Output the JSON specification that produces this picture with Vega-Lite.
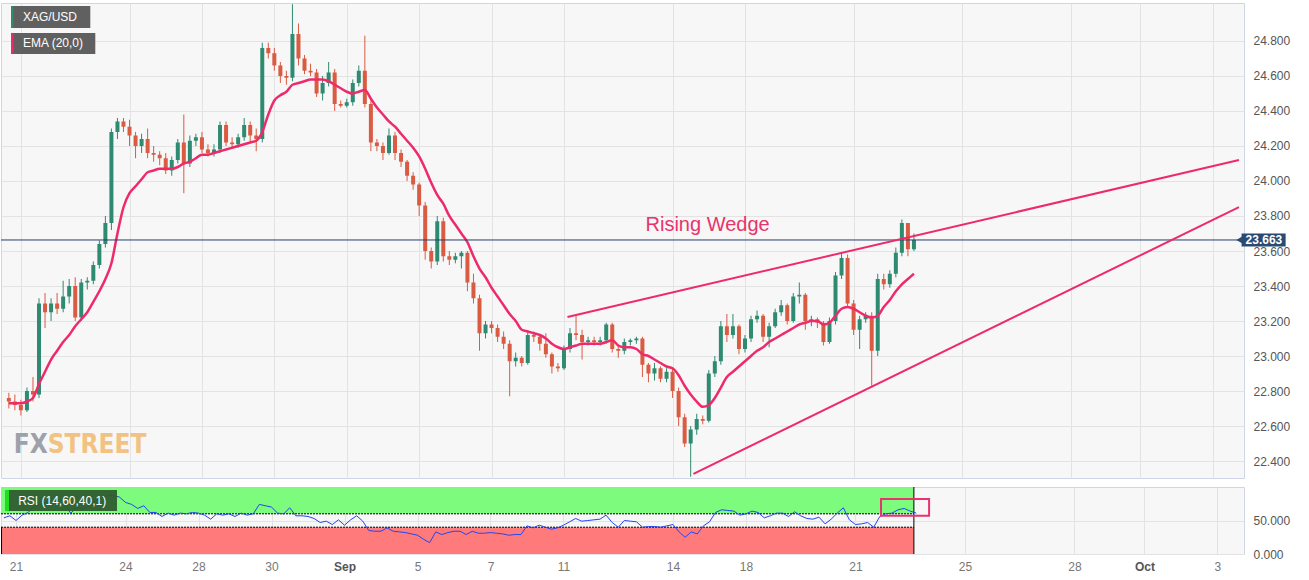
{
  "$schema": "https://vega.github.io/schema/vega-lite/v6.json",
  "background": "white",
  "padding": {"left": 0, "top": 2, "right": 0, "bottom": 0},
  "spacing": 7,
  "config": {
    "font": "Liberation Sans",
    "view": {"fill": "#f7f7f7", "stroke": "#cfd4e6"},
    "axis": {"gridColor": "#e3e3e3", "domain": false, "ticks": false, "title": null, "labelFont": "Liberation Sans", "labelFontSize": 12, "labelColor": "#555555", "labelFlush": false, "labelOverlap": false}
  },
  "datasets": {
    "candles": [
      {"i":-2,"open":22.76,"high":22.79,"low":22.70,"close":22.74,"ema":22.73,"rsi":54},
      {"i":-1,"open":22.74,"high":22.78,"low":22.69,"close":22.72,"ema":22.73,"rsi":57},
      {"i":0,"open":22.72,"high":22.75,"low":22.66,"close":22.69,"ema":22.73,"rsi":50},
      {"i":1,"open":22.69,"high":22.82,"low":22.68,"close":22.80,"ema":22.74,"rsi":58},
      {"i":2,"open":22.80,"high":22.88,"low":22.74,"close":22.78,"ema":22.76,"rsi":62},
      {"i":3,"open":22.78,"high":23.33,"low":22.76,"close":23.30,"ema":22.84,"rsi":72},
      {"i":4,"open":23.30,"high":23.36,"low":23.16,"close":23.25,"ema":22.91,"rsi":74},
      {"i":5,"open":23.25,"high":23.33,"low":23.20,"close":23.30,"ema":22.98,"rsi":77},
      {"i":6,"open":23.30,"high":23.36,"low":23.24,"close":23.27,"ema":23.03,"rsi":80},
      {"i":7,"open":23.27,"high":23.43,"low":23.25,"close":23.34,"ema":23.08,"rsi":77},
      {"i":8,"open":23.34,"high":23.44,"low":23.30,"close":23.40,"ema":23.12,"rsi":73},
      {"i":9,"open":23.40,"high":23.45,"low":23.20,"close":23.22,"ema":23.17,"rsi":61},
      {"i":10,"open":23.22,"high":23.44,"low":23.20,"close":23.42,"ema":23.21,"rsi":70},
      {"i":11,"open":23.42,"high":23.45,"low":23.38,"close":23.43,"ema":23.25,"rsi":67},
      {"i":12,"open":23.43,"high":23.54,"low":23.41,"close":23.52,"ema":23.31,"rsi":72},
      {"i":13,"open":23.52,"high":23.66,"low":23.50,"close":23.64,"ema":23.37,"rsi":79},
      {"i":14,"open":23.64,"high":23.80,"low":23.62,"close":23.76,"ema":23.44,"rsi":84},
      {"i":15,"open":23.76,"high":24.30,"low":23.72,"close":24.28,"ema":23.53,"rsi":87},
      {"i":16,"open":24.28,"high":24.36,"low":24.24,"close":24.34,"ema":23.70,"rsi":87},
      {"i":17,"open":24.34,"high":24.36,"low":24.28,"close":24.31,"ema":23.85,"rsi":85},
      {"i":18,"open":24.31,"high":24.35,"low":24.20,"close":24.26,"ema":23.93,"rsi":77},
      {"i":19,"open":24.26,"high":24.28,"low":24.13,"close":24.20,"ema":23.97,"rsi":74},
      {"i":20,"open":24.20,"high":24.27,"low":24.16,"close":24.24,"ema":24.01,"rsi":68},
      {"i":21,"open":24.24,"high":24.30,"low":24.13,"close":24.16,"ema":24.05,"rsi":72},
      {"i":22,"open":24.16,"high":24.20,"low":24.11,"close":24.15,"ema":24.06,"rsi":62},
      {"i":23,"open":24.15,"high":24.17,"low":24.09,"close":24.13,"ema":24.07,"rsi":62},
      {"i":24,"open":24.13,"high":24.16,"low":24.04,"close":24.06,"ema":24.07,"rsi":56},
      {"i":25,"open":24.06,"high":24.14,"low":24.03,"close":24.12,"ema":24.07,"rsi":61},
      {"i":26,"open":24.12,"high":24.24,"low":24.10,"close":24.22,"ema":24.08,"rsi":58},
      {"i":27,"open":24.22,"high":24.38,"low":23.93,"close":24.10,"ema":24.10,"rsi":61},
      {"i":28,"open":24.10,"high":24.26,"low":24.08,"close":24.23,"ema":24.11,"rsi":60},
      {"i":29,"open":24.23,"high":24.27,"low":24.20,"close":24.25,"ema":24.13,"rsi":62},
      {"i":30,"open":24.25,"high":24.28,"low":24.16,"close":24.18,"ema":24.15,"rsi":61},
      {"i":31,"open":24.18,"high":24.21,"low":24.14,"close":24.16,"ema":24.15,"rsi":58},
      {"i":32,"open":24.16,"high":24.21,"low":24.14,"close":24.18,"ema":24.16,"rsi":52},
      {"i":33,"open":24.18,"high":24.34,"low":24.16,"close":24.32,"ema":24.17,"rsi":60},
      {"i":34,"open":24.32,"high":24.34,"low":24.20,"close":24.22,"ema":24.18,"rsi":58},
      {"i":35,"open":24.22,"high":24.25,"low":24.19,"close":24.21,"ema":24.19,"rsi":60},
      {"i":36,"open":24.21,"high":24.27,"low":24.19,"close":24.25,"ema":24.20,"rsi":56},
      {"i":37,"open":24.25,"high":24.36,"low":24.23,"close":24.32,"ema":24.21,"rsi":61},
      {"i":38,"open":24.32,"high":24.34,"low":24.22,"close":24.26,"ema":24.22,"rsi":58},
      {"i":39,"open":24.26,"high":24.30,"low":24.17,"close":24.24,"ema":24.23,"rsi":60},
      {"i":40,"open":24.24,"high":24.79,"low":24.22,"close":24.76,"ema":24.28,"rsi":74},
      {"i":41,"open":24.76,"high":24.79,"low":24.70,"close":24.73,"ema":24.38,"rsi":72},
      {"i":42,"open":24.73,"high":24.76,"low":24.63,"close":24.66,"ema":24.46,"rsi":70},
      {"i":43,"open":24.66,"high":24.68,"low":24.56,"close":24.60,"ema":24.49,"rsi":61},
      {"i":44,"open":24.60,"high":24.63,"low":24.55,"close":24.59,"ema":24.51,"rsi":60},
      {"i":45,"open":24.59,"high":25.01,"low":24.57,"close":24.84,"ema":24.55,"rsi":69},
      {"i":46,"open":24.84,"high":24.90,"low":24.66,"close":24.70,"ema":24.56,"rsi":57},
      {"i":47,"open":24.70,"high":24.72,"low":24.61,"close":24.63,"ema":24.57,"rsi":57},
      {"i":48,"open":24.63,"high":24.67,"low":24.60,"close":24.62,"ema":24.58,"rsi":56},
      {"i":49,"open":24.62,"high":24.64,"low":24.48,"close":24.50,"ema":24.58,"rsi":53},
      {"i":50,"open":24.50,"high":24.60,"low":24.46,"close":24.56,"ema":24.58,"rsi":47},
      {"i":51,"open":24.56,"high":24.68,"low":24.54,"close":24.62,"ema":24.57,"rsi":49},
      {"i":52,"open":24.62,"high":24.64,"low":24.40,"close":24.44,"ema":24.55,"rsi":44},
      {"i":53,"open":24.44,"high":24.46,"low":24.42,"close":24.43,"ema":24.53,"rsi":51},
      {"i":54,"open":24.43,"high":24.47,"low":24.42,"close":24.45,"ema":24.51,"rsi":43},
      {"i":55,"open":24.45,"high":24.58,"low":24.43,"close":24.56,"ema":24.50,"rsi":51},
      {"i":56,"open":24.56,"high":24.66,"low":24.54,"close":24.63,"ema":24.51,"rsi":57},
      {"i":57,"open":24.63,"high":24.83,"low":24.42,"close":24.44,"ema":24.52,"rsi":49},
      {"i":58,"open":24.44,"high":24.46,"low":24.17,"close":24.22,"ema":24.47,"rsi":35},
      {"i":59,"open":24.22,"high":24.24,"low":24.17,"close":24.20,"ema":24.42,"rsi":34},
      {"i":60,"open":24.20,"high":24.22,"low":24.12,"close":24.16,"ema":24.38,"rsi":34},
      {"i":61,"open":24.16,"high":24.30,"low":24.15,"close":24.26,"ema":24.34,"rsi":39},
      {"i":62,"open":24.26,"high":24.28,"low":24.12,"close":24.16,"ema":24.31,"rsi":34},
      {"i":63,"open":24.16,"high":24.18,"low":24.08,"close":24.11,"ema":24.27,"rsi":33},
      {"i":64,"open":24.11,"high":24.12,"low":24.00,"close":24.03,"ema":24.23,"rsi":32},
      {"i":65,"open":24.03,"high":24.05,"low":23.95,"close":23.98,"ema":24.19,"rsi":30},
      {"i":66,"open":23.98,"high":23.99,"low":23.80,"close":23.86,"ema":24.14,"rsi":28},
      {"i":67,"open":23.86,"high":23.88,"low":23.55,"close":23.60,"ema":24.07,"rsi":22},
      {"i":68,"open":23.60,"high":23.62,"low":23.50,"close":23.54,"ema":23.99,"rsi":17},
      {"i":69,"open":23.54,"high":23.80,"low":23.52,"close":23.77,"ema":23.92,"rsi":33},
      {"i":70,"open":23.77,"high":23.79,"low":23.54,"close":23.57,"ema":23.87,"rsi":29},
      {"i":71,"open":23.57,"high":23.60,"low":23.52,"close":23.55,"ema":23.80,"rsi":32},
      {"i":72,"open":23.55,"high":23.59,"low":23.53,"close":23.57,"ema":23.75,"rsi":34},
      {"i":73,"open":23.57,"high":23.60,"low":23.50,"close":23.59,"ema":23.70,"rsi":34},
      {"i":74,"open":23.59,"high":23.60,"low":23.37,"close":23.42,"ema":23.65,"rsi":29},
      {"i":75,"open":23.42,"high":23.47,"low":23.30,"close":23.33,"ema":23.57,"rsi":34},
      {"i":76,"open":23.33,"high":23.35,"low":23.03,"close":23.13,"ema":23.50,"rsi":31},
      {"i":77,"open":23.13,"high":23.20,"low":23.10,"close":23.18,"ema":23.45,"rsi":31},
      {"i":78,"open":23.18,"high":23.20,"low":23.13,"close":23.16,"ema":23.39,"rsi":32},
      {"i":79,"open":23.16,"high":23.18,"low":23.08,"close":23.11,"ema":23.34,"rsi":31},
      {"i":80,"open":23.11,"high":23.14,"low":23.04,"close":23.07,"ema":23.29,"rsi":30},
      {"i":81,"open":23.07,"high":23.09,"low":22.77,"close":22.97,"ema":23.24,"rsi":28},
      {"i":82,"open":22.97,"high":23.02,"low":22.94,"close":22.99,"ema":23.20,"rsi":29},
      {"i":83,"open":22.99,"high":23.00,"low":22.94,"close":22.96,"ema":23.15,"rsi":29},
      {"i":84,"open":22.96,"high":23.14,"low":22.95,"close":23.12,"ema":23.14,"rsi":42},
      {"i":85,"open":23.12,"high":23.14,"low":23.08,"close":23.11,"ema":23.13,"rsi":39},
      {"i":86,"open":23.11,"high":23.12,"low":23.03,"close":23.07,"ema":23.12,"rsi":43},
      {"i":87,"open":23.07,"high":23.13,"low":22.99,"close":23.01,"ema":23.10,"rsi":40},
      {"i":88,"open":23.01,"high":23.02,"low":22.90,"close":22.94,"ema":23.07,"rsi":37},
      {"i":89,"open":22.94,"high":22.96,"low":22.91,"close":22.93,"ema":23.05,"rsi":39},
      {"i":90,"open":22.93,"high":23.06,"low":22.92,"close":23.04,"ema":23.04,"rsi":43},
      {"i":91,"open":23.04,"high":23.16,"low":23.02,"close":23.13,"ema":23.05,"rsi":48},
      {"i":92,"open":23.13,"high":23.23,"low":23.09,"close":23.12,"ema":23.06,"rsi":53},
      {"i":93,"open":23.12,"high":23.15,"low":22.98,"close":23.08,"ema":23.07,"rsi":49},
      {"i":94,"open":23.08,"high":23.11,"low":23.06,"close":23.09,"ema":23.07,"rsi":50},
      {"i":95,"open":23.09,"high":23.11,"low":23.06,"close":23.08,"ema":23.07,"rsi":51},
      {"i":96,"open":23.08,"high":23.11,"low":23.06,"close":23.09,"ema":23.07,"rsi":52},
      {"i":97,"open":23.09,"high":23.19,"low":23.07,"close":23.18,"ema":23.08,"rsi":58},
      {"i":98,"open":23.18,"high":23.19,"low":23.02,"close":23.04,"ema":23.09,"rsi":47},
      {"i":99,"open":23.04,"high":23.06,"low":22.99,"close":23.03,"ema":23.06,"rsi":40},
      {"i":100,"open":23.03,"high":23.10,"low":23.01,"close":23.08,"ema":23.05,"rsi":50},
      {"i":101,"open":23.08,"high":23.10,"low":23.06,"close":23.09,"ema":23.05,"rsi":49},
      {"i":102,"open":23.09,"high":23.11,"low":23.07,"close":23.10,"ema":23.04,"rsi":48},
      {"i":103,"open":23.10,"high":23.11,"low":22.88,"close":22.95,"ema":23.01,"rsi":40},
      {"i":104,"open":22.95,"high":22.96,"low":22.85,"close":22.90,"ema":23.00,"rsi":41},
      {"i":105,"open":22.90,"high":22.96,"low":22.86,"close":22.93,"ema":22.98,"rsi":41},
      {"i":106,"open":22.93,"high":22.94,"low":22.85,"close":22.87,"ema":22.96,"rsi":40},
      {"i":107,"open":22.87,"high":22.93,"low":22.85,"close":22.91,"ema":22.94,"rsi":42},
      {"i":108,"open":22.91,"high":22.93,"low":22.76,"close":22.80,"ema":22.93,"rsi":44},
      {"i":109,"open":22.80,"high":22.82,"low":22.60,"close":22.65,"ema":22.89,"rsi":33},
      {"i":110,"open":22.65,"high":22.67,"low":22.48,"close":22.50,"ema":22.83,"rsi":25},
      {"i":111,"open":22.50,"high":22.60,"low":22.31,"close":22.58,"ema":22.78,"rsi":33},
      {"i":112,"open":22.58,"high":22.67,"low":22.55,"close":22.64,"ema":22.74,"rsi":30},
      {"i":113,"open":22.64,"high":22.66,"low":22.61,"close":22.63,"ema":22.71,"rsi":42},
      {"i":114,"open":22.63,"high":22.92,"low":22.62,"close":22.90,"ema":22.72,"rsi":48},
      {"i":115,"open":22.90,"high":23.00,"low":22.88,"close":22.97,"ema":22.76,"rsi":62},
      {"i":116,"open":22.97,"high":23.20,"low":22.95,"close":23.17,"ema":22.82,"rsi":66},
      {"i":117,"open":23.17,"high":23.24,"low":23.08,"close":23.12,"ema":22.88,"rsi":65},
      {"i":118,"open":23.12,"high":23.24,"low":23.10,"close":23.17,"ema":22.91,"rsi":64},
      {"i":119,"open":23.17,"high":23.18,"low":23.01,"close":23.04,"ema":22.94,"rsi":58},
      {"i":120,"open":23.04,"high":23.12,"low":23.02,"close":23.10,"ema":22.97,"rsi":60},
      {"i":121,"open":23.10,"high":23.23,"low":23.08,"close":23.21,"ema":23.00,"rsi":64},
      {"i":122,"open":23.21,"high":23.26,"low":23.19,"close":23.23,"ema":23.03,"rsi":62},
      {"i":123,"open":23.23,"high":23.24,"low":23.08,"close":23.11,"ema":23.05,"rsi":54},
      {"i":124,"open":23.11,"high":23.19,"low":23.05,"close":23.17,"ema":23.08,"rsi":57},
      {"i":125,"open":23.17,"high":23.27,"low":23.16,"close":23.25,"ema":23.10,"rsi":61},
      {"i":126,"open":23.25,"high":23.32,"low":23.23,"close":23.29,"ema":23.12,"rsi":61},
      {"i":127,"open":23.29,"high":23.30,"low":23.18,"close":23.20,"ema":23.14,"rsi":56},
      {"i":128,"open":23.20,"high":23.36,"low":23.19,"close":23.34,"ema":23.16,"rsi":63},
      {"i":129,"open":23.34,"high":23.42,"low":23.30,"close":23.35,"ema":23.18,"rsi":57},
      {"i":130,"open":23.35,"high":23.36,"low":23.15,"close":23.20,"ema":23.19,"rsi":53},
      {"i":131,"open":23.20,"high":23.23,"low":23.17,"close":23.21,"ema":23.20,"rsi":52},
      {"i":132,"open":23.21,"high":23.22,"low":23.16,"close":23.19,"ema":23.20,"rsi":55},
      {"i":133,"open":23.19,"high":23.20,"low":23.06,"close":23.08,"ema":23.18,"rsi":45},
      {"i":134,"open":23.08,"high":23.22,"low":23.07,"close":23.20,"ema":23.19,"rsi":52},
      {"i":135,"open":23.20,"high":23.48,"low":23.18,"close":23.46,"ema":23.23,"rsi":61},
      {"i":136,"open":23.46,"high":23.59,"low":23.44,"close":23.56,"ema":23.27,"rsi":69},
      {"i":137,"open":23.56,"high":23.58,"low":23.28,"close":23.30,"ema":23.28,"rsi":51},
      {"i":138,"open":23.30,"high":23.32,"low":23.12,"close":23.15,"ema":23.27,"rsi":44},
      {"i":139,"open":23.15,"high":23.23,"low":23.04,"close":23.21,"ema":23.25,"rsi":45},
      {"i":140,"open":23.21,"high":23.25,"low":23.19,"close":23.23,"ema":23.23,"rsi":47},
      {"i":141,"open":23.23,"high":23.25,"low":22.83,"close":23.03,"ema":23.22,"rsi":40},
      {"i":142,"open":23.03,"high":23.47,"low":23.00,"close":23.44,"ema":23.23,"rsi":56},
      {"i":143,"open":23.44,"high":23.47,"low":23.38,"close":23.41,"ema":23.28,"rsi":60},
      {"i":144,"open":23.41,"high":23.49,"low":23.39,"close":23.47,"ema":23.32,"rsi":61},
      {"i":145,"open":23.47,"high":23.62,"low":23.45,"close":23.59,"ema":23.37,"rsi":66},
      {"i":146,"open":23.59,"high":23.78,"low":23.57,"close":23.76,"ema":23.41,"rsi":68},
      {"i":147,"open":23.76,"high":23.76,"low":23.57,"close":23.61,"ema":23.44,"rsi":64},
      {"i":148,"open":23.61,"high":23.70,"low":23.60,"close":23.663,"ema":23.47,"rsi":61}
    ],
    "wedge": [
      {"line":"upper","i":90.58,"price":23.223},
      {"line":"upper","i":201.87,"price":24.12},
      {"line":"lower","i":111.46,"price":22.326},
      {"line":"lower","i":201.87,"price":23.851}
    ],
    "last": [{"price":23.663,"label":"23.663"}]
  },
  "vconcat": [
    {
      "width": 1243,
      "height": 475,
      "layer": [
        {
          "data": {"name": "candles"},
          "mark": {"type": "rule", "strokeWidth": 1},
          "encoding": {
            "x": {"field": "i", "type": "quantitative", "scale": {"domain": [-2.47, 201.87], "nice": false, "zero": false},
                  "axis": {"values": [0,18,30,42,54,66,78,90,108,120,138,156,174,185.5,197.5], "tickCount": 40, "labels": false, "grid": true, "title": null}},
            "y": {"field": "low", "type": "quantitative", "scale": {"domain": [22.303, 25.017], "nice": false, "zero": false},
                  "axis": {"orient": "right", "values": [22.4,22.6,22.8,23.0,23.2,23.4,23.6,23.8,24.0,24.2,24.4,24.6,24.8], "tickCount": 30, "format": ".3f", "grid": true, "labelPadding": 9, "labelOverlap": false, "title": null}},
            "y2": {"field": "high"},
            "color": {"condition": {"test": "datum.close >= datum.open", "value": "#2e8a70"}, "value": "#d95b42"}
          }
        },
        {
          "data": {"name": "candles"},
          "mark": {"type": "bar", "size": 4},
          "encoding": {
            "x": {"field": "i", "type": "quantitative"},
            "y": {"field": "open", "type": "quantitative"},
            "y2": {"field": "close"},
            "color": {"condition": {"test": "datum.close >= datum.open", "value": "#2e8a70"}, "value": "#d95b42"}
          }
        },
        {
          "data": {"name": "candles"},
          "mark": {"type": "line", "color": "#ee2a6b", "strokeWidth": 2.5, "interpolate": "monotone"},
          "encoding": {
            "x": {"field": "i", "type": "quantitative"},
            "y": {"field": "ema", "type": "quantitative"}
          }
        },
        {
          "data": {"name": "last"},
          "mark": {"type": "rule", "color": "#24416b", "strokeWidth": 1},
          "encoding": {"y": {"field": "price", "type": "quantitative"}}
        },
        {
          "data": {"name": "wedge"},
          "mark": {"type": "line", "color": "#ee2a6b", "strokeWidth": 2},
          "encoding": {
            "x": {"field": "i", "type": "quantitative"},
            "y": {"field": "price", "type": "quantitative"},
            "detail": {"field": "line"}
          }
        },
        {
          "data": {"values": [{"label": "Rising Wedge"}]},
          "mark": {"type": "text", "color": "#e8336d", "fontSize": 20, "font": "Liberation Sans", "align": "center", "baseline": "middle"},
          "encoding": {
            "x": {"datum": 113.8, "type": "quantitative"},
            "y": {"datum": 23.749, "type": "quantitative"},
            "text": {"field": "label"}
          }
        },
        {
          "data": {"values": [{"label": "FX"}]},
          "mark": {"type": "text", "color": "#9ea1aa", "fontSize": 26, "fontWeight": "bold", "font": "DejaVu Sans Condensed, Roboto, sans-serif", "align": "right", "baseline": "middle"},
          "encoding": {
            "x": {"datum": 4.44, "type": "quantitative"},
            "y": {"datum": 22.491, "type": "quantitative"},
            "text": {"field": "label"}
          }
        },
        {
          "data": {"values": [{"label": "STREET"}]},
          "mark": {"type": "text", "color": "#f2c283", "fontSize": 26, "fontWeight": "bold", "font": "DejaVu Sans Condensed, Roboto, sans-serif", "align": "left", "baseline": "middle"},
          "encoding": {
            "x": {"datum": 4.44, "type": "quantitative"},
            "y": {"datum": 22.491, "type": "quantitative"},
            "text": {"field": "label"}
          }
        },
        {
          "data": {"values": [{"name": "XAG/USD"}]},
          "mark": {"type": "rect", "color": "#606060"},
          "encoding": {
            "x": {"datum": -1.64, "type": "quantitative"}, "x2": {"datum": 11.5},
            "y": {"datum": 25.0, "type": "quantitative"}, "y2": {"datum": 24.874}
          }
        },
        {
          "data": {"values": [{"name": "XAG/USD"}]},
          "mark": {"type": "rect", "color": "#2e8a70"},
          "encoding": {
            "x": {"datum": -1.64, "type": "quantitative"}, "x2": {"datum": -1.23},
            "y": {"datum": 25.0, "type": "quantitative"}, "y2": {"datum": 24.874}
          }
        },
        {
          "data": {"values": [{"name": "XAG/USD"}]},
          "mark": {"type": "text", "color": "#ffffff", "fontSize": 12, "align": "left", "baseline": "middle"},
          "encoding": {
            "x": {"datum": 0.35, "type": "quantitative"},
            "y": {"datum": 24.937, "type": "quantitative"},
            "text": {"field": "name"}
          }
        },
        {
          "data": {"values": [{"name": "EMA (20,0)"}]},
          "mark": {"type": "rect", "color": "#606060"},
          "encoding": {
            "x": {"datum": -1.64, "type": "quantitative"}, "x2": {"datum": 12.33},
            "y": {"datum": 24.846, "type": "quantitative"}, "y2": {"datum": 24.726}
          }
        },
        {
          "data": {"values": [{"name": "EMA (20,0)"}]},
          "mark": {"type": "rect", "color": "#ee2a6b"},
          "encoding": {
            "x": {"datum": -1.64, "type": "quantitative"}, "x2": {"datum": -1.23},
            "y": {"datum": 24.846, "type": "quantitative"}, "y2": {"datum": 24.726}
          }
        },
        {
          "data": {"values": [{"name": "EMA (20,0)"}]},
          "mark": {"type": "text", "color": "#ffffff", "fontSize": 12, "align": "left", "baseline": "middle"},
          "encoding": {
            "x": {"datum": 0.35, "type": "quantitative"},
            "y": {"datum": 24.786, "type": "quantitative"},
            "text": {"field": "name"}
          }
        },
        {
          "data": {"name": "last"},
          "mark": {"type": "point", "shape": "triangle-left", "filled": true, "size": 45, "color": "#2b4a72", "opacity": 1},
          "encoding": {
            "x": {"datum": 201.9, "type": "quantitative"},
            "y": {"field": "price", "type": "quantitative"}
          }
        },
        {
          "data": {"name": "last"},
          "mark": {"type": "rect", "color": "#2b4a72"},
          "encoding": {
            "x": {"datum": 202.3, "type": "quantitative"}, "x2": {"datum": 209.6},
            "y": {"datum": 23.626, "type": "quantitative"}, "y2": {"datum": 23.700}
          }
        },
        {
          "data": {"name": "last"},
          "mark": {"type": "text", "color": "#ffffff", "fontSize": 12, "fontWeight": "bold", "align": "center", "baseline": "middle"},
          "encoding": {
            "x": {"datum": 206.0, "type": "quantitative"},
            "y": {"field": "price", "type": "quantitative"},
            "text": {"field": "label"}
          }
        }
      ]
    },
    {
      "width": 1243,
      "height": 67,
      "layer": [
        {
          "data": {"values": [{"zone": "overbought"}]},
          "mark": {"type": "rect", "color": "#7dfb7d", "opacity": 1},
          "encoding": {
            "x": {"datum": -2.47, "type": "quantitative", "scale": {"domain": [-2.47, 201.87], "nice": false, "zero": false},
                  "axis": {"values": [0,18,30,42,54,66,78,90,108,120,138,156,174,185.5,197.5], "tickCount": 40, "grid": true, "title": null, "labelPadding": 7, "labelColor": {"condition": {"test": "datum.value == 54 || datum.value == 185.5", "value": "#555555"}, "value": "#777777"},
                  "labelFontWeight": {"condition": {"test": "datum.value == 54 || datum.value == 185.5", "value": "bold"}, "value": "normal"},
                  "labelExpr": "['21','24','28','30','Sep','5','7','11','14','18','21','25','28','Oct','3'][indexof([0,18,30,42,54,66,78,90,108,120,138,156,174,185.5,197.5], datum.value)]"}},
            "x2": {"datum": 147.6},
            "y": {"datum": 60, "type": "quantitative", "scale": {"domain": [0, 100], "nice": false},
                  "axis": {"orient": "right", "values": [0, 50], "tickCount": 5, "format": ".3f", "grid": true, "labelPadding": 9, "title": null}},
            "y2": {"datum": 100}
          }
        },
        {
          "data": {"values": [{"zone": "oversold"}]},
          "mark": {"type": "rect", "color": "#ff7b7b", "opacity": 1},
          "encoding": {
            "x": {"datum": -2.47, "type": "quantitative"}, "x2": {"datum": 147.6},
            "y": {"datum": 0, "type": "quantitative"}, "y2": {"datum": 40}
          }
        },
        {
          "data": {"values": [{"level": 60}, {"level": 40}]},
          "mark": {"type": "rule", "color": "#000000", "strokeWidth": 1, "strokeDash": [2, 1]},
          "encoding": {
            "x": {"datum": -2.47, "type": "quantitative"}, "x2": {"datum": 147.6},
            "y": {"field": "level", "type": "quantitative"}
          }
        },
        {
          "data": {"values": [{"edge": "end"}]},
          "mark": {"type": "rule", "color": "#000000", "strokeWidth": 1},
          "encoding": {
            "x": {"datum": 147.6, "type": "quantitative"},
            "y": {"datum": 0, "type": "quantitative"}, "y2": {"datum": 100}
          }
        },
        {
          "data": {"values": [{"edge": "start"}]},
          "mark": {"type": "rule", "color": "#000000", "strokeWidth": 1},
          "encoding": {
            "x": {"datum": -2.38, "type": "quantitative"},
            "y": {"datum": 0, "type": "quantitative"}, "y2": {"datum": 40}
          }
        },
        {
          "data": {"name": "candles"},
          "mark": {"type": "line", "color": "#2146f0", "strokeWidth": 1},
          "encoding": {
            "x": {"field": "i", "type": "quantitative"},
            "y": {"field": "rsi", "type": "quantitative"}
          }
        },
        {
          "data": {"values": [{"note": "breakout"}]},
          "mark": {"type": "rect", "fill": null, "fillOpacity": 0, "stroke": "#e8336d", "strokeWidth": 2},
          "encoding": {
            "x": {"datum": 142.2, "type": "quantitative"}, "x2": {"datum": 150.1},
            "y": {"datum": 57, "type": "quantitative"}, "y2": {"datum": 82}
          }
        },
        {
          "data": {"values": [{"name": "RSI (14,60,40,1)"}]},
          "mark": {"type": "rect", "color": "#2f5c2f", "opacity": 0.95},
          "encoding": {
            "x": {"datum": -1.73, "type": "quantitative"}, "x2": {"datum": 16.6},
            "y": {"datum": 64.2, "type": "quantitative"}, "y2": {"datum": 95.5}
          }
        },
        {
          "data": {"values": [{"name": "RSI (14,60,40,1)"}]},
          "mark": {"type": "rect", "color": "#1fe01f"},
          "encoding": {
            "x": {"datum": -1.73, "type": "quantitative"}, "x2": {"datum": -1.15},
            "y": {"datum": 64.2, "type": "quantitative"}, "y2": {"datum": 95.5}
          }
        },
        {
          "data": {"values": [{"name": "RSI (14,60,40,1)"}]},
          "mark": {"type": "text", "color": "#ffffff", "fontSize": 12, "align": "left", "baseline": "middle"},
          "encoding": {
            "x": {"datum": 0.35, "type": "quantitative"},
            "y": {"datum": 79.8, "type": "quantitative"},
            "text": {"field": "name"}
          }
        }
      ]
    }
  ]
}
